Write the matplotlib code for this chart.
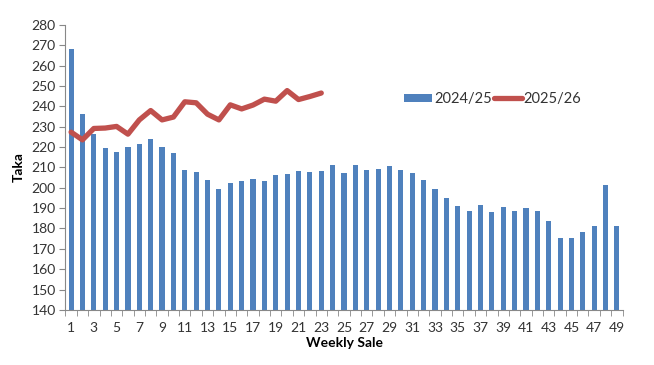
import matplotlib
matplotlib.use('Agg')

import matplotlib.pyplot as plt
import numpy as np

weeks = list(range(1, 50))

sale_2024_25 = [
    268.1, 236.1, 226.5, 219.6, 217.3, 219.9, 221.4, 223.7, 219.9, 217.0,
    208.9, 207.5, 204.0, 199.6, 202.2, 203.4, 204.5, 203.4, 206.0, 206.7,
    208.3, 207.8, 208.0, 211.4, 207.3, 211.1, 208.8, 209.1, 210.7, 208.6,
    207.3, 203.9, 199.5, 195.0, 191.0, 188.8, 191.6, 188.2, 190.3, 188.8,
    190.0, 188.5, 183.6, 175.2, 175.2, 178.2, 181.4, 201.1, 181.4,
]

sale_2025_26 = [
    227.3, 223.5, 229.1, 229.3, 230.1, 226.3, 233.3, 237.9, 233.3, 234.7,
    242.2, 241.7, 236.1, 233.3, 240.7, 238.7, 240.6, 243.5, 242.5, 247.7,
    243.3, 244.8, 246.5,
]

series_names = ["2024/25", "2025/26"]

plt.rcParams['font.family'] = ['Lato', 'DejaVu Sans']

fig = plt.figure(figsize=(6.54, 3.65), dpi=100)
ax = fig.add_axes([0.1, 0.151, 0.852, 0.781])

bars = ax.bar(weeks, sale_2024_25, width=0.45, color='#4F81BD',
              label=series_names[0], zorder=2)
line, = ax.plot(weeks[:len(sale_2025_26)], sale_2025_26, color='#C0504D',
                lw=3.8, solid_joinstyle='round', solid_capstyle='round',
                label=series_names[1], zorder=3)

ax.set_xlim(0.5, 49.5)
ax.set_ylim(140, 280)
ax.set_yticks(np.arange(140, 281, 10))
ax.set_xticks(weeks[::2])
ax.set_xticks(np.arange(0.5, 50, 1), minor=True)
ax.tick_params(axis='x', which='major', length=0, pad=9, labelsize=10,
               colors='#333333')
ax.tick_params(axis='x', which='minor', length=4, color='#888888')
ax.tick_params(axis='y', length=4, color='#888888', labelsize=10,
               labelcolor='#333333', pad=3)

for side in ['top', 'right']:
    ax.spines[side].set_visible(False)
for side in ['left', 'bottom']:
    ax.spines[side].set_color('#888888')
    ax.spines[side].set_linewidth(0.8)

ax.set_ylabel("Taka", fontweight='bold', fontsize=10, labelpad=5)
ax.set_xlabel("Weekly Sale", fontweight='bold', fontsize=10, labelpad=2)

leg = ax.legend([bars, line], series_names, loc='center',
                bbox_to_anchor=(0.767, 0.74), ncol=2,
                frameon=False, fontsize=10.5, handlelength=1.9,
                handleheight=0.5, columnspacing=0.15, handletextpad=0.15)
for t in leg.get_texts():
    t.set_color('#333333')

plt.savefig("out.png", dpi=100)
